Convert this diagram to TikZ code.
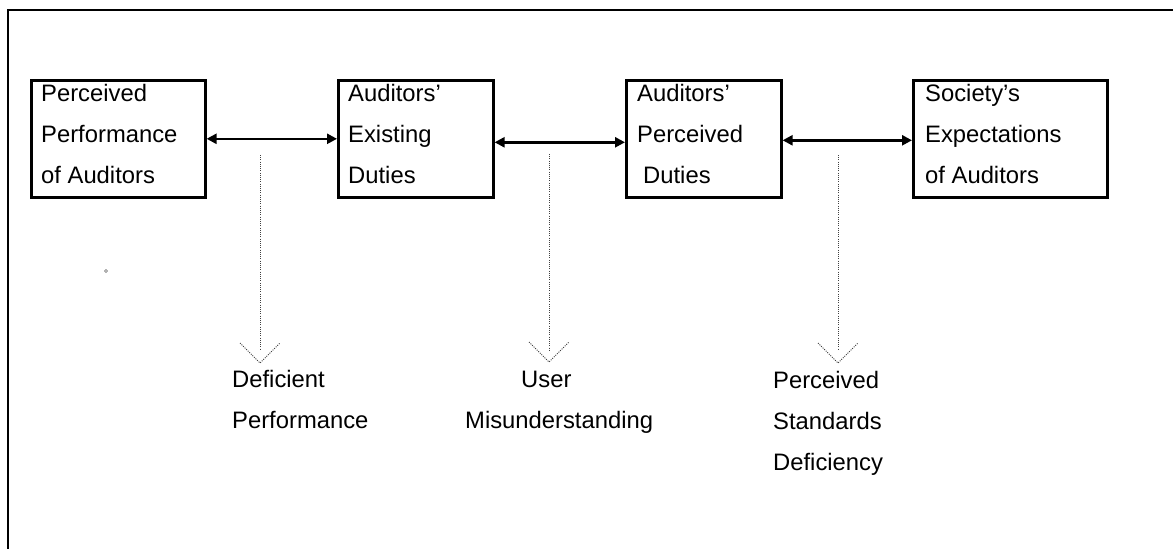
\documentclass[tikz,border=0pt]{standalone}
\usepackage{fontspec}
\setmainfont{Liberation Sans}
\usetikzlibrary{arrows.meta}
\tikzset{
  box/.style={draw, line width=2.6pt, inner sep=0pt, anchor=north west},
  lbl/.style={font=\fontsize{23.8pt}{41pt}\selectfont, align=left, inner sep=0pt, anchor=base west},
  biarrow/.style={line width=2.4pt, {Triangle[length=10pt,width=10pt]}-{Triangle[length=10pt,width=10pt]}},
  dotline/.style={draw=black!75, line width=0.9pt, dash pattern=on 1pt off 1.2pt},
  frame/.style={line width=2.4pt}
}
\begin{document}
\begin{tikzpicture}[x=1pt,y=-1pt]
\useasboundingbox (0,0) rectangle (1173,549);
% frame (clipped)
\coordinate (fa) at (8,10);
\coordinate (fb) at (1173,10);
\coordinate (fc) at (8,549);
\draw[frame] (fb) -- (fa) -- (fc);

% boxes
\node[box, minimum width=174pt, minimum height=117pt] (b1) at (30,79) {};
\node[box, minimum width=155pt, minimum height=117pt] (b2) at (337,79) {};
\node[box, minimum width=155pt, minimum height=117pt] (b3) at (625,79) {};
\node[box, minimum width=194pt, minimum height=117pt] (b4) at (912,79) {};

% box texts (anchor at baseline of last line)
\node[lbl] (t1) at (41,183) {Perceived\\Performance\\of Auditors};
\node[lbl] (t2) at (348,183) {Auditors’\\Existing\\Duties};
\node[lbl] (t3) at (637,183) {Auditors’\\Perceived\\\hspace*{6pt}Duties};
\node[lbl] (t4) at (925,183) {Society’s\\Expectations\\of Auditors};

% double arrows
\draw[biarrow] (b1.east) -- (b2.west);
\draw[biarrow] ([yshift=-3.5pt]b2.east) -- ([yshift=-3.5pt]b3.west);
\draw[biarrow] ([yshift=-1.5pt]b3.east) -- ([yshift=-1.5pt]b4.west);

% dotted arrows
\coordinate (d1a) at (260,155); \coordinate (d1b) at (260,350); \coordinate (d1t) at (260,363);
\coordinate (d2a) at (549,154); \coordinate (d2b) at (549,350); \coordinate (d2t) at (549,362);
\coordinate (d3a) at (838,155); \coordinate (d3b) at (838,350); \coordinate (d3t) at (838,363);
\draw[dotline] (d1a) -- (d1b);
\draw[dotline] ([xshift=-20pt,yshift=20pt]d1t) -- (d1t) -- ([xshift=20pt,yshift=20pt]d1t);
\draw[dotline] (d2a) -- (d2b);
\draw[dotline] ([xshift=-20pt,yshift=20pt]d2t) -- (d2t) -- ([xshift=20pt,yshift=20pt]d2t);
\draw[dotline] (d3a) -- (d3b);
\draw[dotline] ([xshift=-20pt,yshift=20pt]d3t) -- (d3t) -- ([xshift=20pt,yshift=20pt]d3t);

% bottom labels (anchor at baseline of last line)
\node[lbl] (l1) at (232,428) {Deficient\\Performance};
\node[lbl] (l2) at (465,428) {\hspace*{56pt}User\\Misunderstanding};
\node[lbl] (l3) at (773,470) {Perceived\\Standards\\Deficiency};

% small mark
\coordinate (dot) at (106,271);
\draw[black!60, line width=0.6pt] (dot) circle (1.5pt);
\end{tikzpicture}
\end{document}
